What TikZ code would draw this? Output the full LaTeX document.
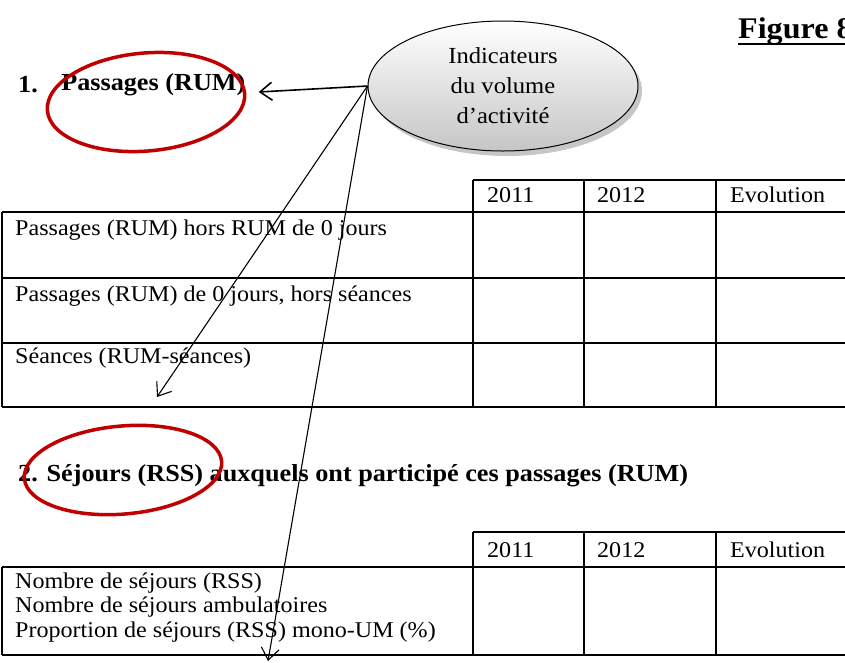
\documentclass[tikz,border=0pt]{standalone}
\usepackage{fontspec}
\setmainfont[FakeStretch=1.07]{Liberation Serif}
\usetikzlibrary{positioning,shapes,shadows,arrows.meta}
\definecolor{ringred}{RGB}{192,0,0}

\begin{document}
\begin{tikzpicture}[x=1pt,y=-1pt,
    >={Straight Barb[length=12pt,width=18pt]},
    txt/.style={font=\fontsize{22.5}{25}\selectfont, inner sep=0pt, anchor=west},
    hd/.style={font=\fontsize{24.5}{27}\selectfont\bfseries, inner sep=0pt, anchor=west},
    ring/.style={ellipse, draw=ringred, line width=3.5pt, inner sep=0pt},
    grid/.style={line width=1.8pt},
    ptr/.style={->, line width=1.1pt}]
  \useasboundingbox (0,0) rectangle (845,662);
  \clip (0,0) rectangle (845,662);

  % title and first heading
  \node[font=\fontsize{30}{34}\selectfont\bfseries, anchor=base west, inner sep=0pt] (fig) at (738,38) {Figure 8};
  \draw[line width=2.8pt] ([yshift=-6pt]fig.base west) -- ([yshift=-6pt]fig.base east);
  \node[hd] (num1) at (18,85) {1.};
  \node[hd, right=23pt of num1] (h1) {Passages (RUM)};
  \node[ring, minimum width=198pt, minimum height=98pt, rotate=5] (ring1) at (146,102) {};

  % bubble
  \node[ellipse, draw, line width=1pt, minimum width=270pt, minimum height=130pt,
        top color=white, bottom color=gray!45,
        drop shadow={opacity=0.45, shadow xshift=4pt, shadow yshift=-5pt},
        align=center, font=\fontsize{23}{30}\selectfont] (ind) at (503,86)
        {Indicateurs\\du volume\\d’activité};

  % table 1
  \draw[grid] (473,180) -- (848,180);
  \foreach \y in {212,278,343,407}
    \draw[grid] (2,\y) -- (848,\y);
  \foreach \x in {473,584,716}
    \draw[grid] (\x,180) -- (\x,407);
  \draw[grid] (2,212) -- (2,407);
  \node[txt] (a1) at (487,195) {2011};
  \node[txt] (a2) at (597,195) {2012};
  \node[txt] (a3) at (730,195) {Evolution};
  \node[txt] (p1) at (15,230) {Passages (RUM) hors RUM de 0 jours};
  \node[txt] (p2) at (15,296) {Passages (RUM) de 0 jours, hors séances};
  \node[txt] (p3) at (15,358) {Séances (RUM-séances)};

  % second heading
  \node[hd] (h2) at (18,476) {2. Séjours (RSS) auxquels ont participé ces passages (RUM)};
  \node[ring, minimum width=198pt, minimum height=88pt, rotate=5] (ring2) at (123,470) {};

  % table 2
  \draw[grid] (473,532) -- (848,532);
  \foreach \y in {567,655}
    \draw[grid] (2,\y) -- (848,\y);
  \foreach \x in {473,584,716}
    \draw[grid] (\x,532) -- (\x,655);
  \draw[grid] (2,567) -- (2,655);
  \node[txt] (b1) at (487,550) {2011};
  \node[txt] (b2) at (597,550) {2012};
  \node[txt] (b3) at (730,550) {Evolution};
  \node[txt] (s1) at (15,583) {Nombre de séjours (RSS)};
  \node[txt] (s2) at (15,607) {Nombre de séjours ambulatoires};
  \node[txt] (s3) at (15,632) {Proportion de séjours (RSS) mono-UM (\%)};

  % arrows
  \coordinate (tip2) at (157,397);
  \coordinate (tip3) at (268,661);
  \draw[ptr, line width=1.6pt] (ind.west) -- ([xshift=13pt,yshift=-7pt]h1.east);
  \draw[ptr] (ind.west) -- (tip2);
  \draw[ptr] (ind.west) -- (tip3);
\end{tikzpicture}
\end{document}
